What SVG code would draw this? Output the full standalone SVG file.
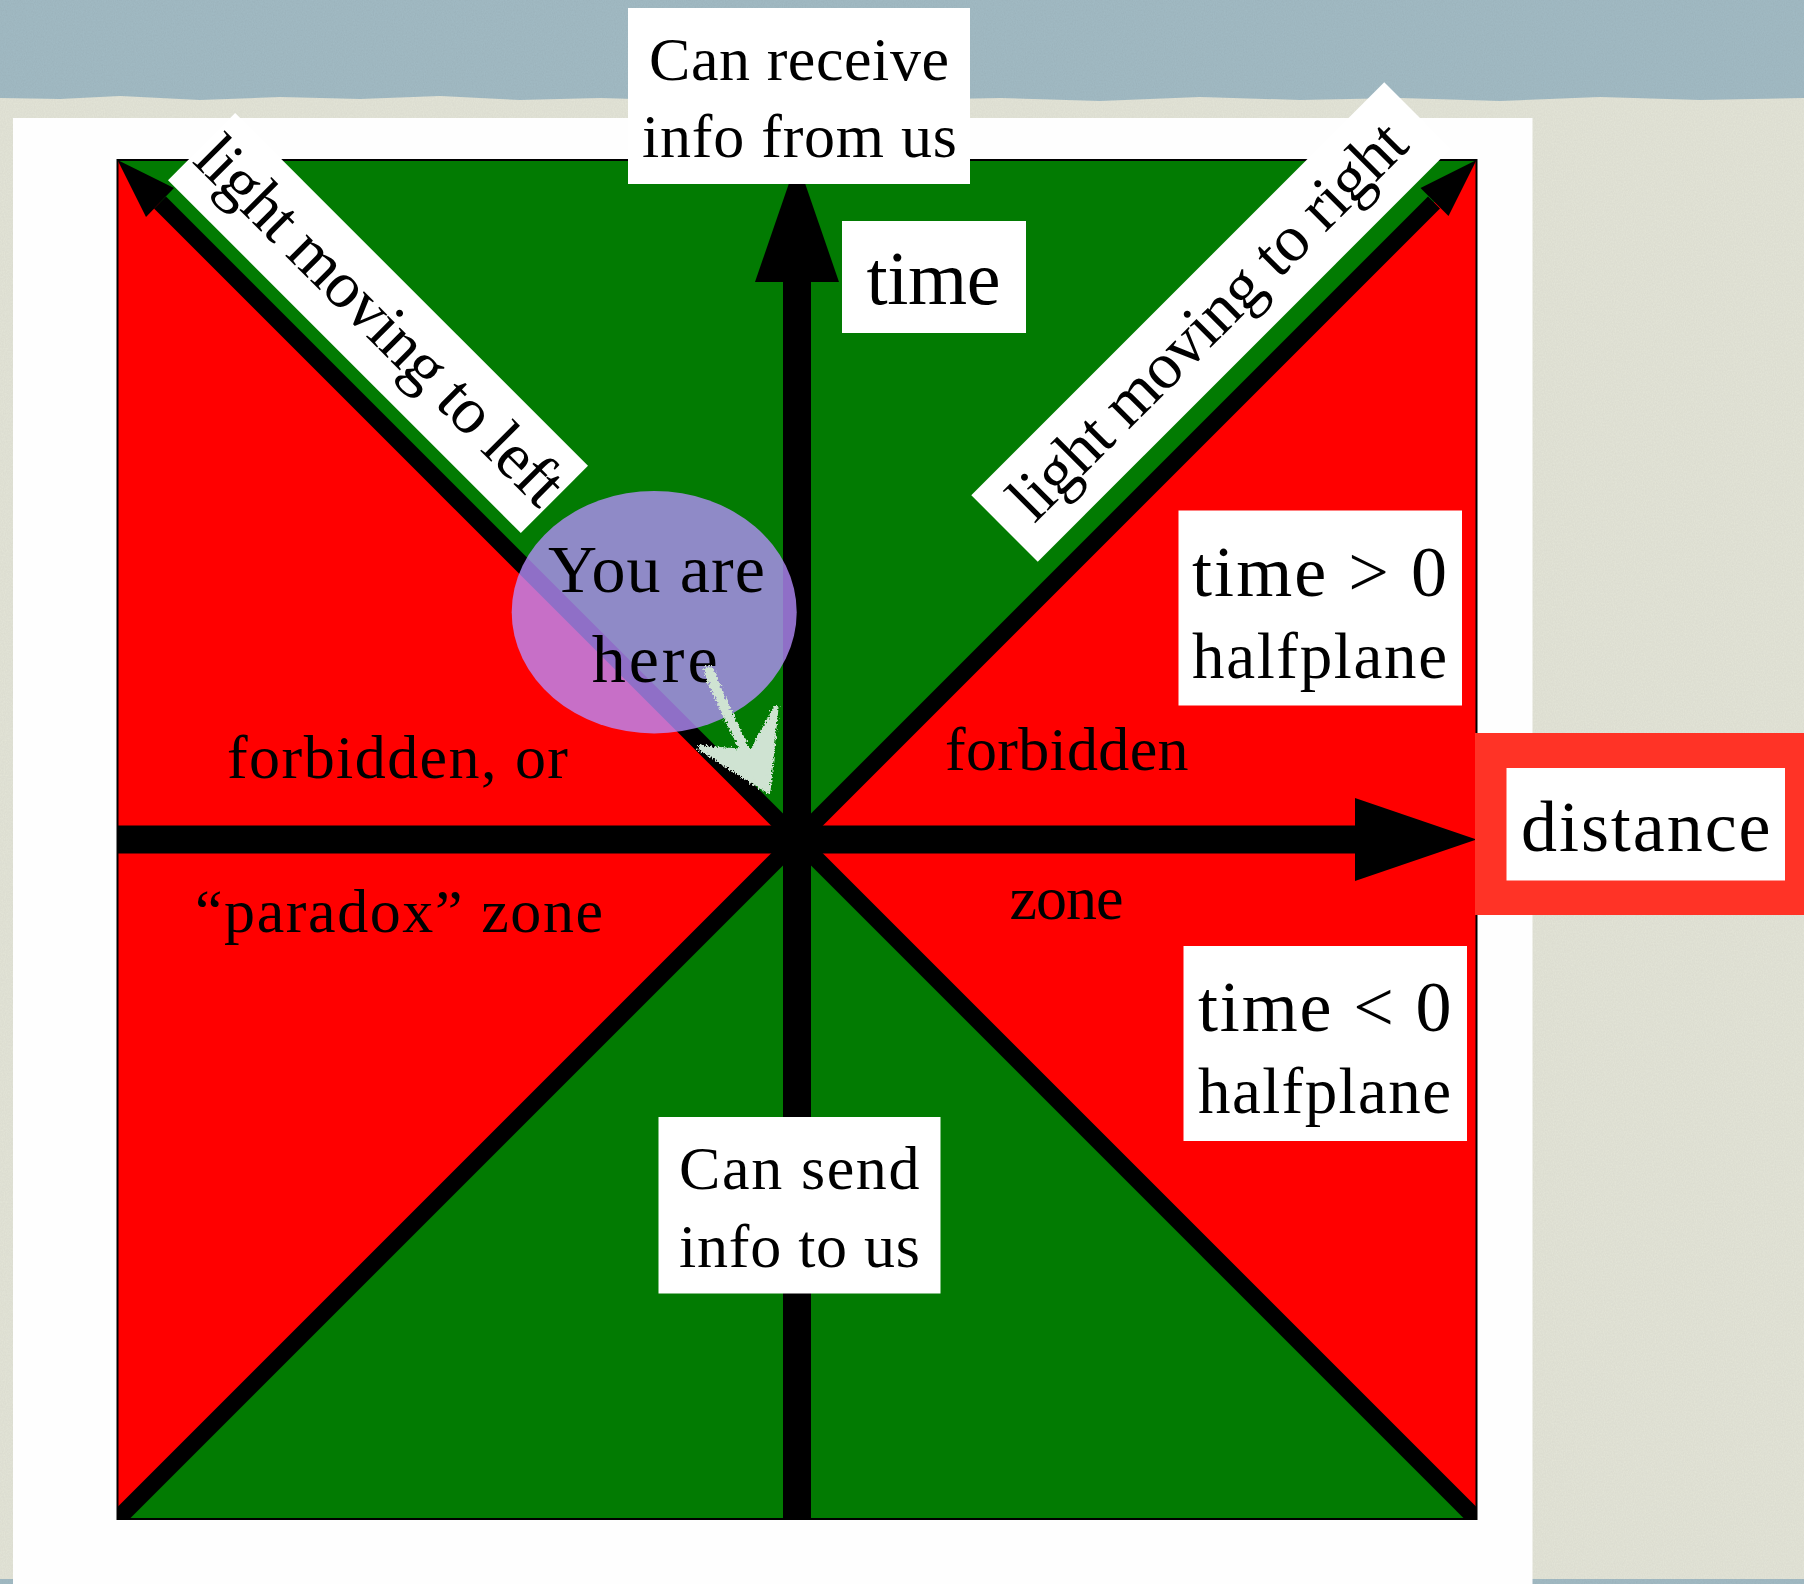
<svg xmlns="http://www.w3.org/2000/svg" width="1804" height="1584" viewBox="0 0 1804 1584">
  <defs>
    <style>
      .box { fill: #ffffff; }
      .lbl { font-family: "Liberation Serif", "Times New Roman", serif; fill: #000000; }
      .red { fill: #ff0000; }
      .green { fill: #027b02; }
      .axis { fill: #000000; }
      .diag { stroke: #000000; stroke-width: 17; fill: none; }
      .chalk { stroke: #cfe3d2; fill: none; stroke-linecap: round; stroke-linejoin: round; }
    </style>
    <clipPath id="sq">
      <rect x="117.5" y="160" width="1359" height="1359"/>
    </clipPath>
    <filter id="rough" x="-30%" y="-30%" width="160%" height="160%">
      <feTurbulence type="fractalNoise" baseFrequency="0.45" numOctaves="2" seed="4" result="n"/>
      <feDisplacementMap in="SourceGraphic" in2="n" scale="7" xChannelSelector="R" yChannelSelector="G"/>
    </filter>
    <filter id="tex" x="0" y="0" width="100%" height="100%">
      <feTurbulence type="fractalNoise" baseFrequency="0.9 0.6" numOctaves="2" seed="7" result="t"/>
      <feColorMatrix in="t" type="matrix" values="0 0 0 0 0  0 0 0 0 0  0 0 0 0 0  0 0 0 0.10 0" result="a"/>
      <feComposite in="a" in2="SourceGraphic" operator="in" result="b"/>
      <feMerge><feMergeNode in="SourceGraphic"/><feMergeNode in="b"/></feMerge>
    </filter>
  </defs>

  <!-- background -->
  <g id="background">
    <rect x="0" y="0" width="1804" height="1584" fill="#a3bbc5" filter="url(#tex)"/>
    <path d="M0,98 L60,99 L120,96 L200,100 L280,97 L360,99 L440,96 L520,100 L600,98 L700,101 L800,97 L900,100 L1000,98 L1100,101 L1200,97 L1300,100 L1400,98 L1500,101 L1600,97 L1700,100 L1804,98 L1804,1579 L0,1579 Z" fill="#e4e5d8" filter="url(#tex)"/>
    <rect x="13" y="118" width="1519.5" height="1466" fill="#fefefe"/>
  </g>

  <!-- square regions -->
  <g id="regions">
    <rect x="117.5" y="160" width="1359" height="1359" class="red"/>
    <polygon points="117.5,160 1476.5,160 797,839.5" class="green"/>
    <polygon points="117.5,1519 1476.5,1519 797,839.5" class="green"/>
    <rect x="117.5" y="160" width="1359" height="1359" fill="none" stroke="#000" stroke-width="2"/>
  </g>

  <!-- connectors: axes and light lines -->
  <g id="connectors">
    <g clip-path="url(#sq)">
      <line x1="797" y1="839.5" x2="160" y2="202.5" class="diag"/>
      <line x1="797" y1="839.5" x2="1434" y2="202.5" class="diag"/>
      <line x1="797" y1="839.5" x2="112" y2="1524.5" class="diag"/>
      <line x1="797" y1="839.5" x2="1482" y2="1524.5" class="diag"/>
      <polygon points="117.5,160 174,188 146,217" class="axis"/>
      <polygon points="1476.5,160 1420.5,188 1448.5,216" class="axis"/>
    </g>
    <rect x="783" y="280" width="28" height="1239" class="axis"/>
    <polygon points="755,282 839,282 797,160" class="axis"/>
    <rect x="117.5" y="825.5" width="1240" height="28" class="axis"/>
    <polygon points="1355,798 1355,881 1476.5,839.5" class="axis"/>
  </g>

  <!-- labels -->
  <g id="label-can-receive">
    <rect x="628" y="8" width="342" height="176" class="box"/>
    <text class="lbl" x="649" y="80" font-size="62" textLength="300">Can receive</text>
    <text class="lbl" x="642" y="157" font-size="62" textLength="315">info from us</text>
  </g>

  <g id="label-time">
    <rect x="842" y="221" width="184" height="112" class="box"/>
    <text class="lbl" x="866.5" y="304" font-size="76" textLength="134">time</text>
  </g>

  <g id="label-light-left" transform="translate(378,323) rotate(45)">
    <rect x="-249.5" y="-47.5" width="499" height="95" class="box"/>
    <text class="lbl" x="-246" y="18" font-size="66" textLength="492">light moving to left</text>
  </g>

  <g id="label-light-right" transform="translate(1211,322) rotate(-45)">
    <rect x="-292" y="-47" width="584" height="94" class="box"/>
    <text class="lbl" x="-268" y="18" font-size="66" textLength="533">light moving to right</text>
  </g>

  <g id="label-time-pos">
    <rect x="1178.5" y="510.5" width="283.5" height="195" class="box"/>
    <text class="lbl" x="1192" y="596" font-size="72" textLength="255">time &gt; 0</text>
    <text class="lbl" x="1192" y="678" font-size="65" textLength="255">halfplane</text>
  </g>

  <g id="label-time-neg">
    <rect x="1183.5" y="946" width="283.5" height="195" class="box"/>
    <text class="lbl" x="1198" y="1030.5" font-size="72" textLength="253.5">time &lt; 0</text>
    <text class="lbl" x="1198" y="1113" font-size="65" textLength="253">halfplane</text>
  </g>

  <g id="label-distance">
    <rect x="1475" y="733" width="329" height="182" fill="#ff3326"/>
    <rect x="1506.5" y="768" width="278.5" height="112.5" class="box"/>
    <text class="lbl" x="1521" y="850.5" font-size="72" textLength="249.5">distance</text>
  </g>

  <g id="label-can-send">
    <rect x="658.5" y="1117" width="282" height="176.5" class="box"/>
    <text class="lbl" x="679" y="1189.3" font-size="62" textLength="240.5">Can send</text>
    <text class="lbl" x="679" y="1266.7" font-size="62" textLength="241">info to us</text>
  </g>

  <g id="label-forbidden-left">
    <text class="lbl" x="227" y="777.5" font-size="62" textLength="341">forbidden, or</text>
    <text class="lbl" x="195" y="931.7" font-size="62" textLength="408">“paradox” zone</text>
  </g>

  <g id="label-forbidden-right">
    <text class="lbl" x="945" y="770" font-size="62" textLength="243.5">forbidden</text>
    <text class="lbl" x="1009.5" y="919" font-size="62" textLength="114">zone</text>
  </g>

  <g id="you-are-here">
    <ellipse cx="654.2" cy="612.2" rx="142.5" ry="121.2" fill="#b78eff" fill-opacity="0.78"/>
    <text class="lbl" x="548" y="591.7" font-size="68" textLength="217">You are</text>
    <text class="lbl" x="591.7" y="681.7" font-size="68" textLength="126">here</text>
  </g>

  <g id="chalk-arrow" filter="url(#rough)">
    <path d="M709,671 C718,695 730,720 750,760" class="chalk" stroke-width="10"/>
    <polygon points="700,748 768,791 776,708 752,752" fill="#cfe3d2" stroke="#cfe3d2" stroke-width="5" stroke-linejoin="round"/>
  </g>
</svg>
